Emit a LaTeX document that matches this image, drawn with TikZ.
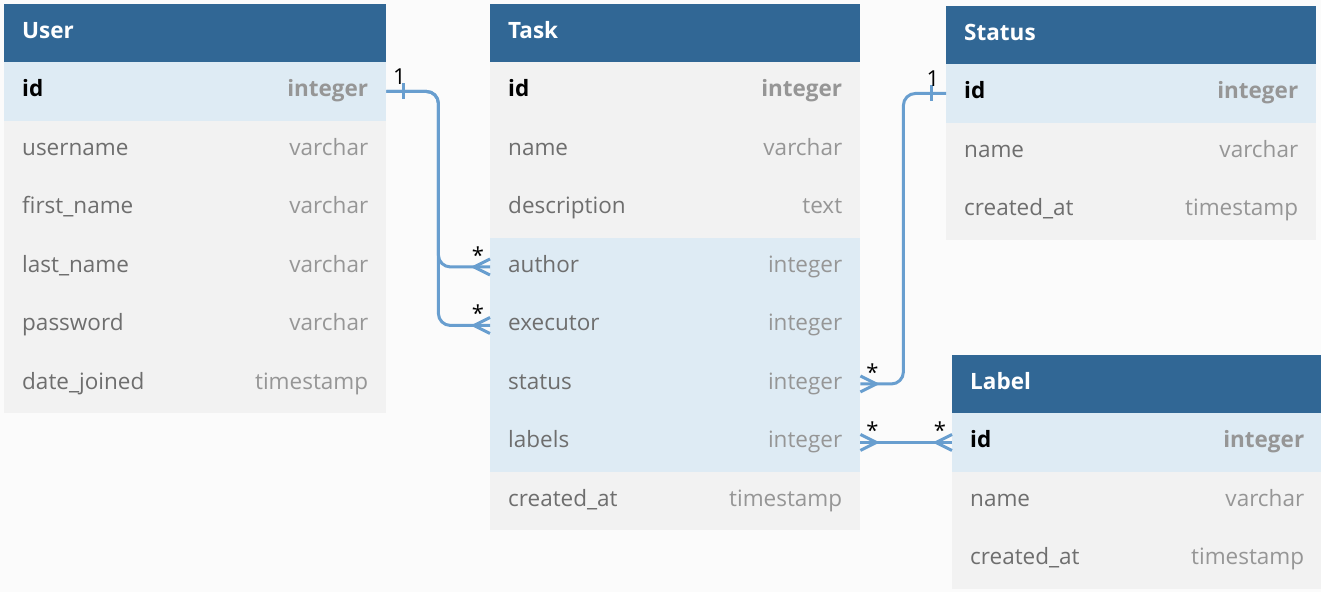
\documentclass[tikz,border=0pt]{standalone}
\usepackage{fontspec}
\setmainfont{Open Sans}
\usepackage{tikz}

\definecolor{headblue}{RGB}{49,103,149}
\definecolor{keyrow}{RGB}{222,235,244}
\definecolor{bodygray}{RGB}{242,242,242}
\definecolor{pagebg}{RGB}{251,251,251}
\definecolor{linkblue}{RGB}{104,158,207}
\definecolor{namegray}{RGB}{110,110,110}
\definecolor{typegray}{RGB}{150,150,150}

% one row of a table: [fill]{node}{x}{y}{width}{field}{type}
\newcommand{\field}[7][bodygray]{%
  \node[row, fill=#1, minimum width=#5] (#2) at (#3,#4) {};
  \node[fname] at ([xshift=18pt]#2.west) {#6};
  \node[ftype] at ([xshift=-18pt]#2.east) {#7};
}
% table header
\newcommand{\thead}[5]{%
  \node[headrow, minimum width=#4] (#1) at (#2,#3) {};
  \node[htitle] at ([xshift=18pt]#1.west) {#5};
}
% crow's foot at an anchor, #2 = length and side
\newcommand{\crowfoot}[2]{%
  \draw[link] (#1) ++(0,-8) -- ++(#2,8) -- ++(-#2,8);
}

\begin{document}
\begin{tikzpicture}[x=1pt, y=-1pt,
    row/.style={anchor=north west, minimum height=58.5pt, inner sep=0pt, draw=none},
    headrow/.style={row, fill=headblue, minimum height=58pt},
    fname/.style={anchor=west, inner sep=0pt, text height=16pt, text depth=5pt,
                  font=\fontsize{22.5}{27}\selectfont, text=namegray},
    ftype/.style={anchor=east, inner sep=0pt, text height=16pt, text depth=5pt,
                  font=\fontsize{22.5}{27}\selectfont, text=typegray},
    htitle/.style={anchor=west, inner sep=0pt, text height=16pt, text depth=5pt,
                   font=\fontsize{22.5}{27}\selectfont\bfseries, text=white},
    link/.style={draw=linkblue, line width=3pt},
    card/.style={inner sep=0pt, font=\fontsize{22}{26}\selectfont, text=black}]

    \useasboundingbox (0,0) rectangle (1321,592);
    \fill[pagebg] (0,0) rectangle (1321,592);

    % User
    \thead{user}{4}{4}{382}{User}
    \field[keyrow]{user-id}{4}{62}{382}{\textbf{\color{black}id}}{\textbf{integer}}
    \field{user-username}{4}{120.5}{382}{username}{varchar}
    \field{user-first}{4}{179}{382}{first\_name}{varchar}
    \field{user-last}{4}{237.5}{382}{last\_name}{varchar}
    \field{user-password}{4}{296}{382}{password}{varchar}
    \field{user-joined}{4}{354.5}{382}{date\_joined}{timestamp}

    % Task
    \thead{task}{490}{4}{370}{Task}
    \field{task-id}{490}{62}{370}{\textbf{\color{black}id}}{\textbf{integer}}
    \field{task-name}{490}{120.5}{370}{name}{varchar}
    \field{task-desc}{490}{179}{370}{description}{text}
    \field[keyrow]{task-author}{490}{237.5}{370}{author}{integer}
    \field[keyrow]{task-executor}{490}{296}{370}{executor}{integer}
    \field[keyrow]{task-status}{490}{354.5}{370}{status}{integer}
    \field[keyrow]{task-labels}{490}{413}{370}{labels}{integer}
    \field{task-created}{490}{471.5}{370}{created\_at}{timestamp}

    % Status
    \thead{status}{946}{6}{370}{Status}
    \field[keyrow]{status-id}{946}{64}{370}{\textbf{\color{black}id}}{\textbf{integer}}
    \field{status-name}{946}{122.5}{370}{name}{varchar}
    \field{status-created}{946}{181}{370}{created\_at}{timestamp}

    % Label
    \thead{label}{952}{355}{370}{Label}
    \field[keyrow]{label-id}{952}{413}{370}{\textbf{\color{black}id}}{\textbf{integer}}
    \field{label-name}{952}{471.5}{370}{name}{varchar}
    \field{label-created}{952}{530}{370}{created\_at}{timestamp}

    % User 1 -- * Task (author, executor)
    \draw[link, rounded corners=12pt] (user-id.east) -- ++(52,0) |- (task-author.west);
    \draw[link, rounded corners=12pt] (user-id.east) -- ++(52,0) |- (task-executor.west);
    \draw[link] (user-id.east) ++(17,-8) -- ++(0,16);
    \crowfoot{task-author.west}{-16}
    \crowfoot{task-executor.west}{-16}
    \node[card] at ([xshift=13pt, yshift=15pt]user-id.east) {1};
    \node[card] at ([xshift=-12pt, yshift=12pt]task-author.west) {*};
    \node[card] at ([xshift=-12pt, yshift=12pt]task-executor.west) {*};

    % Task * -- 1 Status
    \draw[link, rounded corners=12pt] (task-status.east) -- ++(43,0) |- (status-id.west);
    \draw[link] (status-id.west) ++(-15,-8) -- ++(0,16);
    \crowfoot{task-status.east}{16}
    \node[card] at ([xshift=-13pt, yshift=15pt]status-id.west) {1};
    \node[card] at ([xshift=12pt, yshift=12pt]task-status.east) {*};

    % Task * -- * Label
    \draw[link] (task-labels.east) -- (label-id.west);
    \crowfoot{task-labels.east}{16}
    \crowfoot{label-id.west}{-16}
    \node[card] at ([xshift=12pt, yshift=12pt]task-labels.east) {*};
    \node[card] at ([xshift=-12pt, yshift=12pt]label-id.west) {*};
\end{tikzpicture}
\end{document}
